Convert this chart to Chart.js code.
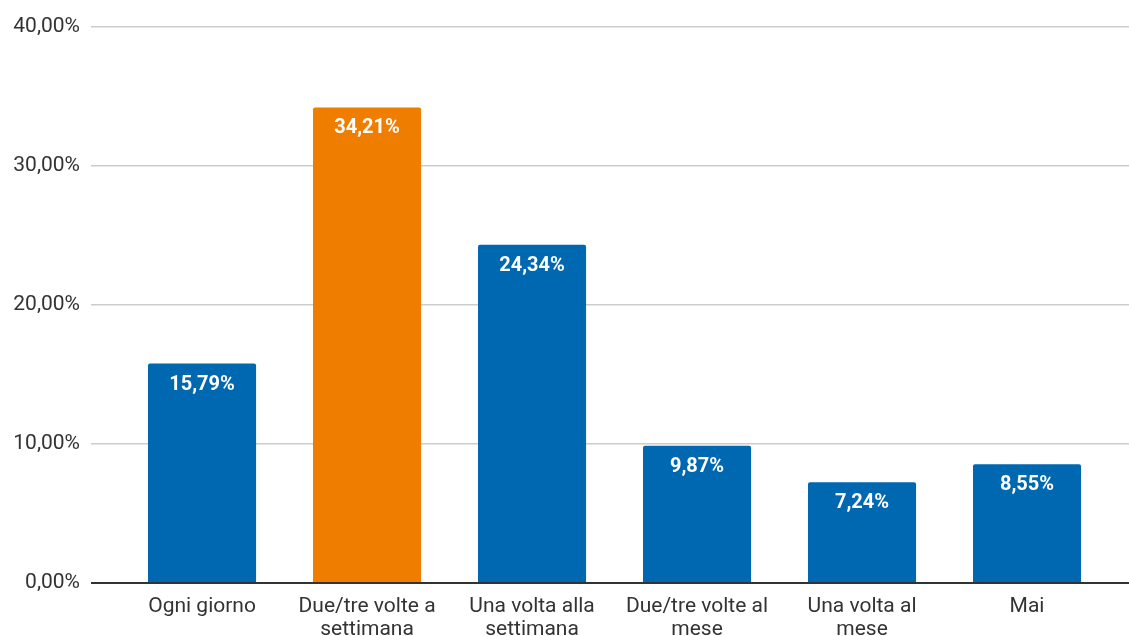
<!DOCTYPE html>
<html>
<head>
<meta charset="utf-8">
<script src="https://cdn.jsdelivr.net/npm/chart.js@4"></script>
<style>
  html, body { margin: 0; padding: 0; background: #fff; }
  #wrap { width: 1129px; height: 636px; }
</style>
</head>
<body>
<div id="wrap"><canvas id="freqChart"></canvas></div>
<script>
// data
const categories = [
  "Ogni giorno",
  ["Due/tre volte a", "settimana"],
  ["Una volta alla", "settimana"],
  ["Due/tre volte al", "mese"],
  ["Una volta al", "mese"],
  "Mai",
];
const percentages = [15.79, 34.21, 24.34, 9.87, 7.24, 8.55];
const barColors = ["#0067b1", "#ef7d00", "#0067b1", "#0067b1", "#0067b1", "#0067b1"];
const yTicks = [0, 10, 20, 30, 40];

const fmt = (v, d) => v.toFixed(d).replace(".", ",") + "%";

// value labels inside bar tops
const valueLabels = {
  id: "valueLabels",
  afterDatasetsDraw(chart) {
    const ctx = chart.ctx;
    const meta = chart.getDatasetMeta(0);
    ctx.save();
    ctx.fillStyle = "#ffffff";
    ctx.font = "bold 20px Roboto";
    ctx.textAlign = "center";
    ctx.textBaseline = "middle";
    meta.data.forEach((bar, i) => {
      ctx.fillText(fmt(percentages[i], 2), bar.x, bar.y + 21);
    });
    ctx.restore();
  },
};

const ctx = document.getElementById("freqChart").getContext("2d");
const freqChart = new Chart(ctx, {
  type: "bar",
  data: {
    datasets: [
      {
        data: percentages.map((v, i) => ({ x: i, y: v })),
        backgroundColor: barColors,
        borderRadius: 2,
        borderSkipped: "bottom",
        barPercentage: 0.655,
        categoryPercentage: 1,
      },
    ],
  },
  options: {
    responsive: true,
    maintainAspectRatio: false,
    animation: false,
    layout: { padding: { top: 27, right: 0, left: 0, bottom: 0 } },
    scales: {
      x: {
        type: "linear",
        offset: false,
        min: -0.673,
        max: 5.618,
        grid: { display: false },
        border: { display: false },
        afterFit(scale) {
          scale.height = 53;
        },
        ticks: {
          stepSize: 1,
          includeBounds: false,
          autoSkip: false,
          maxRotation: 0,
          padding: 4,
          color: "#333",
          font: { family: "Roboto", size: 21, lineHeight: 1.1 },
          callback: (v) => (Number.isInteger(v) ? categories[v] : ""),
        },
      },
      y: {
        min: 0,
        max: 40,
        afterFit(scale) {
          scale.width = 91;
        },
        afterBuildTicks(scale) {
          scale.ticks = yTicks.map((v) => ({ value: v }));
        },
        border: { display: false },
        grid: {
          drawTicks: false,
          color: (c) => (c.tick && c.tick.value === 0 ? "#333333" : "#cccccc"),
          lineWidth: (c) => (c.tick && c.tick.value === 0 ? 2 : 1.5),
        },
        ticks: {
          padding: 11,
          color: "#333",
          font: { family: "Roboto", size: 21 },
          callback: (v) => fmt(v, 2),
        },
      },
    },
    plugins: {
      legend: { display: false },
      tooltip: { enabled: false },
    },
  },
  plugins: [valueLabels],
});
</script>
</body>
</html>
